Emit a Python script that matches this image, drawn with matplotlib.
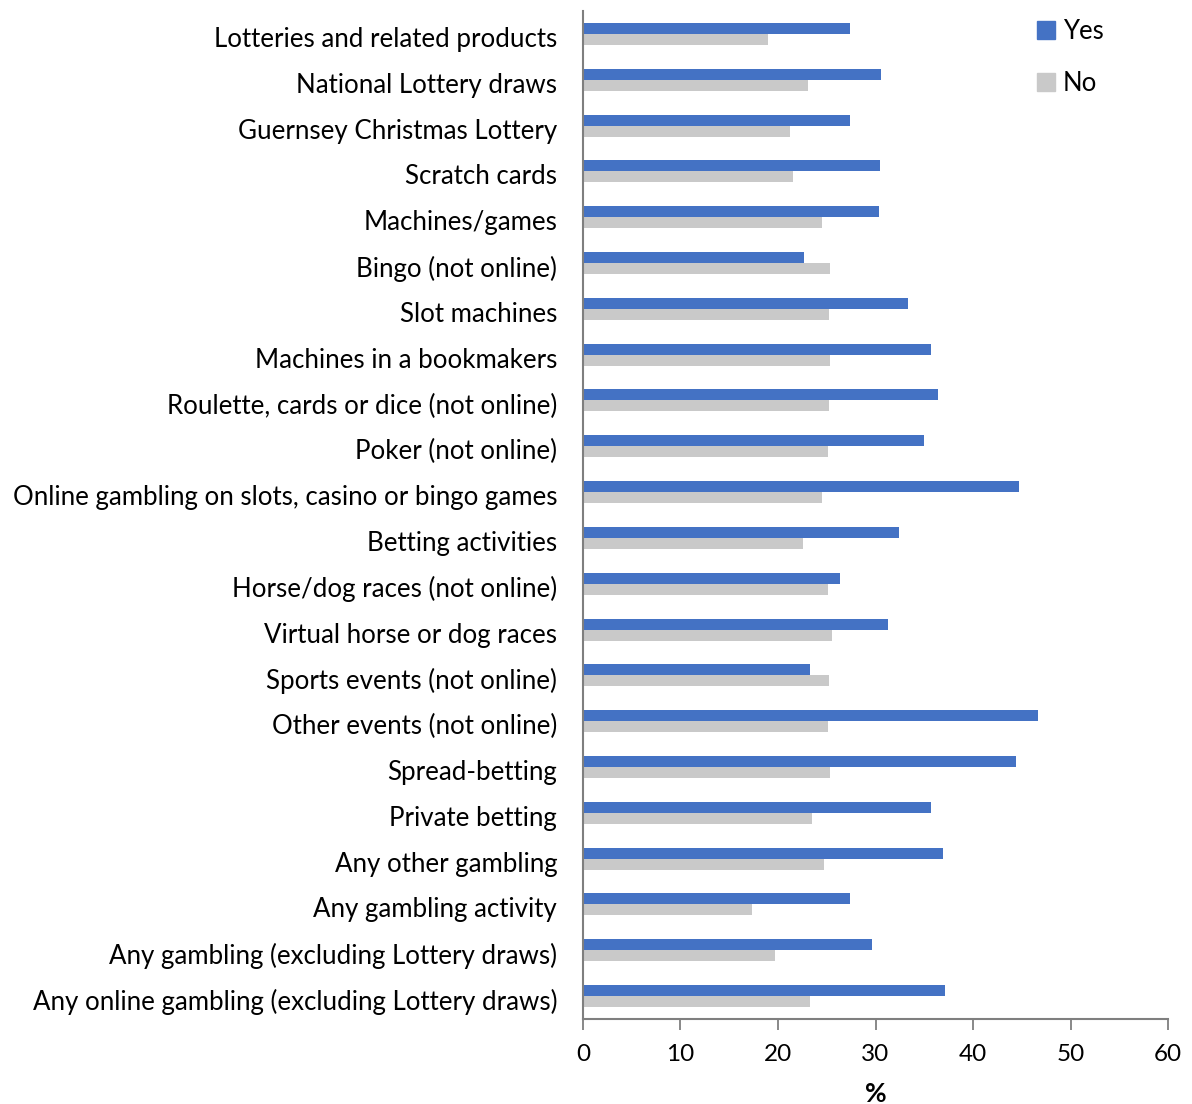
import matplotlib
matplotlib.use("Agg")
import matplotlib.pyplot as plt
import matplotlib.transforms as mtransforms
import numpy as np
from matplotlib.patches import Patch

categories = [
    "Lotteries and related products",
    "National Lottery draws",
    "Guernsey Christmas Lottery",
    "Scratch cards",
    "Machines/games",
    "Bingo (not online)",
    "Slot machines",
    "Machines in a bookmakers",
    "Roulette, cards or dice (not online)",
    "Poker (not online)",
    "Online gambling on slots, casino or bingo games",
    "Betting activities",
    "Horse/dog races (not online)",
    "Virtual horse or dog races",
    "Sports events (not online)",
    "Other events (not online)",
    "Spread-betting",
    "Private betting",
    "Any other gambling",
    "Any gambling activity",
    "Any gambling (excluding Lottery draws)",
    "Any online gambling (excluding Lottery draws)",
]
yes_values = [27.4, 30.6, 27.4, 30.5, 30.4, 22.7, 33.3, 35.7, 36.4, 35.0, 44.7,
              32.4, 26.4, 31.3, 23.3, 46.7, 44.4, 35.7, 36.9, 27.4, 29.6, 37.1]
no_values = [19.0, 23.1, 21.2, 21.5, 24.5, 25.3, 25.2, 25.3, 25.2, 25.1, 24.5,
             22.6, 25.1, 25.5, 25.2, 25.1, 25.3, 23.5, 24.7, 17.3, 19.7, 23.3]
series_names = ["Yes", "No"]
x_ticks = [0, 10, 20, 30, 40, 50, 60]
x_label = "%"

YES_COLOR = "#4472C4"
NO_COLOR = "#C9C9C9"
AXIS_COLOR = "#7F7F7F"

plt.rcParams["font.family"] = ["Lato", "DejaVu Sans"]

fig = plt.figure(figsize=(11.92, 11.04), dpi=100)
ax = fig.add_axes([0.489, 0.077, 0.491, 0.913])

pos = np.arange(len(categories))
h = 0.24
ax.barh(pos - h / 2, yes_values, height=h, color=YES_COLOR, label=series_names[0])
ax.barh(pos + h / 2, no_values, height=h, color=NO_COLOR, label=series_names[1])

ax.set_ylim(len(categories) - 0.5, -0.5)
ax.set_xlim(x_ticks[0], x_ticks[-1])
ax.set_yticks(pos)
ax.set_yticklabels(categories, fontsize=18.6, color="#000000")
ax.set_xticks(x_ticks)
ax.set_xticklabels([str(t) for t in x_ticks], fontsize=17.5)
ax.tick_params(axis="y", length=0, pad=18.5)
ax.tick_params(axis="x", length=8, width=1.3, color=AXIS_COLOR, direction="out", pad=10)

# nudge category labels slightly downward
shift = mtransforms.ScaledTranslation(0, -3 / 100, fig.dpi_scale_trans)
for lbl in ax.get_yticklabels():
    lbl.set_transform(lbl.get_transform() + shift)

for side in ("top", "right"):
    ax.spines[side].set_visible(False)
for side in ("left", "bottom"):
    ax.spines[side].set_color(AXIS_COLOR)
    ax.spines[side].set_linewidth(1.5)

ax.set_xlabel(x_label, fontsize=19, fontweight="bold", labelpad=12)

handles = [Patch(color=YES_COLOR), Patch(color=NO_COLOR)]
ax.legend(handles, series_names, loc="upper left", bbox_to_anchor=(0.737, 1.015),
          frameon=False, fontsize=18.5, handlelength=0.7, handleheight=0.7,
          handletextpad=0.3, labelspacing=1.05)

fig.savefig("out.png", dpi=100)
